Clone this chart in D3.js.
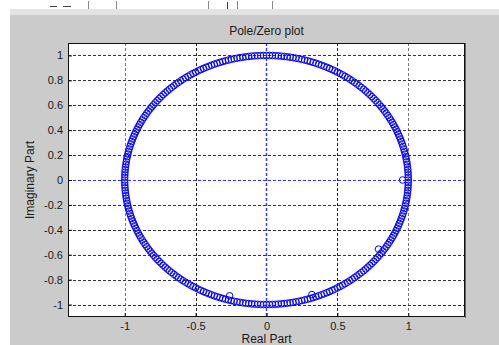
<!DOCTYPE html>
<html>
<head>
<meta charset="utf-8">
<script src="https://cdn.jsdelivr.net/npm/d3@7"></script>
<style>
  html, body { margin: 0; padding: 0; background: #ffffff; }
  svg { display: block; }
  text { font-family: "Liberation Sans", Arial, Helvetica, sans-serif; fill: #1a1a1a; }
</style>
</head>
<body>
<svg id="chart" width="499" height="345"></svg>
<script>
// Zeros lying on the unit circle, given by their angle in degrees
const unitZeroAngles = [
  0,1.2,2.4,3.6,4.8,6,7.2,8.4,9.6,10.8,12,13.2,14.4,15.6,16.8,18,19.2,20.4,21.6,22.8,24,25.2,26.4,27.6,28.8,
  30,31.2,32.4,33.6,34.8,36,37.2,38.4,39.6,40.8,42,43.2,44.4,45.6,46.8,48,49.2,50.4,51.6,52.8,54,55.2,56.4,57.6,58.8,
  60,61.2,62.4,63.6,64.8,66,67.2,68.4,69.6,70.8,72,73.2,74.4,75.6,76.8,78,79.2,80.4,81.6,82.8,84,85.2,86.4,87.6,88.8,
  90,91.2,92.4,93.6,94.8,96,97.2,98.4,99.6,100.8,102,103.2,104.4,105.6,106.8,108,109.2,110.4,111.6,112.8,114,115.2,116.4,117.6,118.8,
  120,121.2,122.4,123.6,124.8,126,127.2,128.4,129.6,130.8,132,133.2,134.4,135.6,136.8,138,139.2,140.4,141.6,142.8,144,145.2,146.4,147.6,148.8,
  150,151.2,152.4,153.6,154.8,156,157.2,158.4,159.6,160.8,162,163.2,164.4,165.6,166.8,168,169.2,170.4,171.6,172.8,174,175.2,176.4,177.6,178.8,
  180,181.2,182.4,183.6,184.8,186,187.2,188.4,189.6,190.8,192,193.2,194.4,195.6,196.8,198,199.2,200.4,201.6,202.8,204,205.2,206.4,207.6,208.8,
  210,211.2,212.4,213.6,214.8,216,217.2,218.4,219.6,220.8,222,223.2,224.4,225.6,226.8,228,229.2,230.4,231.6,232.8,234,235.2,236.4,237.6,238.8,
  240,241.2,242.4,243.6,244.8,246,247.2,248.4,249.6,250.8,252,253.2,254.4,255.6,256.8,258,259.2,260.4,261.6,262.8,264,265.2,266.4,267.6,268.8,
  270,271.2,272.4,273.6,274.8,276,277.2,278.4,279.6,280.8,282,283.2,284.4,285.6,286.8,288,289.2,290.4,291.6,292.8,294,295.2,296.4,297.6,298.8,
  300,301.2,302.4,303.6,304.8,306,307.2,308.4,309.6,310.8,312,313.2,314.4,315.6,316.8,318,319.2,320.4,321.6,322.8,324,325.2,326.4,327.6,328.8,
  330,331.2,332.4,333.6,334.8,336,337.2,338.4,339.6,340.8,342,343.2,344.4,345.6,346.8,348,349.2,350.4,351.6,352.8,354,355.2,356.4,357.6,358.8
];
// Zeros lying just inside the unit circle
const innerZeroRe = [0.96, 0.79, 0.32, -0.26];
const innerZeroIm = [0.0, -0.555, -0.92, -0.93];

const xTicks = [-1, -0.5, 0, 0.5, 1];
const yTicks = [-1, -0.8, -0.6, -0.4, -0.2, 0, 0.2, 0.4, 0.6, 0.8, 1];
const xDomain = [-1.4, 1.4];
const yDomain = [-1.1, 1.1];

const svg = d3.select("#chart");
const W = 499, H = 345;
const plot = { left: 68, right: 465, top: 43, bottom: 317 };

// figure window background and toolbar strip
svg.append("rect").attr("x", 0).attr("y", 0).attr("width", W).attr("height", H).attr("fill", "#ffffff");
svg.append("rect").attr("x", 10).attr("y", 9).attr("width", W - 10).attr("height", 6).attr("fill", "#e2e2e2");
svg.append("rect").attr("x", 10).attr("y", 15).attr("width", W - 10).attr("height", H - 15).attr("fill", "#cbcbcb");
const toolbar = svg.append("g").attr("stroke", "#8a8a8a").attr("stroke-width", 1);
[[50, 57], [63, 71]].forEach(([a, b]) => toolbar.append("line").attr("x1", a).attr("x2", b).attr("y1", 6.5).attr("y2", 6.5).attr("stroke", "#444"));
[88.5, 116.5, 208.5, 237.5, 272.5].forEach(xp => toolbar.append("line").attr("x1", xp).attr("x2", xp).attr("y1", 1).attr("y2", 9));
svg.append("line").attr("x1", 227.5).attr("x2", 227.5).attr("y1", 2).attr("y2", 9).attr("stroke", "#2222dd");

const x = d3.scaleLinear().domain(xDomain).range([plot.left, plot.right]);
const y = d3.scaleLinear().domain(yDomain).range([plot.bottom, plot.top]);

// axes area
svg.append("rect")
  .attr("x", plot.left).attr("y", plot.top)
  .attr("width", plot.right - plot.left).attr("height", plot.bottom - plot.top)
  .attr("fill", "#ffffff");

svg.append("clipPath").attr("id", "plotclip").append("rect")
  .attr("x", plot.left).attr("y", plot.top)
  .attr("width", plot.right - plot.left).attr("height", plot.bottom - plot.top);

// grid lines
const grid = svg.append("g").attr("fill", "none");
grid.selectAll("line.gx").data(xTicks.filter(d => d !== 0)).join("line")
  .attr("class", "gx")
  .attr("x1", d => Math.round(x(d)) + 0.5).attr("x2", d => Math.round(x(d)) + 0.5)
  .attr("y1", plot.top).attr("y2", plot.bottom)
  .attr("stroke", d => Math.abs(d) === 1 ? "#777777" : "#222222")
  .attr("stroke-dasharray", "3,2");
grid.selectAll("line.gy").data(yTicks.filter(d => d !== 0)).join("line")
  .attr("class", "gy")
  .attr("y1", d => Math.round(y(d)) + 0.5).attr("y2", d => Math.round(y(d)) + 0.5)
  .attr("x1", plot.left).attr("x2", plot.right)
  .attr("stroke", "#333333")
  .attr("stroke-dasharray", "3,2");

// zero markers
const marks = svg.append("g").attr("clip-path", "url(#plotclip)")
  .attr("fill", "none").attr("stroke", "#0000ff").attr("stroke-width", 1);
marks.selectAll("circle.uz").data(unitZeroAngles).join("circle")
  .attr("class", "uz")
  .attr("cx", d => x(Math.cos(d * Math.PI / 180)))
  .attr("cy", d => y(Math.sin(d * Math.PI / 180)))
  .attr("r", 3.3);
marks.selectAll("circle.iz").data(innerZeroRe.map((re, i) => ({ re, im: innerZeroIm[i] }))).join("circle")
  .attr("class", "iz")
  .attr("cx", d => x(d.re)).attr("cy", d => y(d.im))
  .attr("r", 3.3);

// real and imaginary axis lines
const x0 = x(0);
const y0 = Math.round(y(0)) + 0.5;
const axisLines = svg.append("g").attr("fill", "none")
  .attr("stroke", "#3030ff").attr("stroke-dasharray", "3,2");
axisLines.append("path").attr("stroke-width", 1.4).attr("d", `M${x0},${plot.top}V${plot.bottom}`);
axisLines.append("path").attr("stroke-width", 1).attr("d", `M${plot.left},${y0}H${plot.right}`);

// axes box
svg.append("rect")
  .attr("x", plot.left + 0.5).attr("y", plot.top + 0.5)
  .attr("width", plot.right - plot.left - 1).attr("height", plot.bottom - plot.top - 1)
  .attr("fill", "none").attr("stroke", "#111111");
svg.append("line")
  .attr("x1", plot.right + 0.5).attr("x2", plot.right + 0.5)
  .attr("y1", plot.top).attr("y2", plot.bottom + 1)
  .attr("stroke", "#666666");

// axes with tick labels
const fmt = d => d === 0 ? "0" : String(d);
const xAxis = svg.append("g").attr("transform", `translate(0,${plot.bottom})`)
  .call(d3.axisBottom(x).tickValues(xTicks).tickFormat(fmt).tickSize(-4).tickPadding(5));
const yAxis = svg.append("g").attr("transform", `translate(${plot.left},0)`)
  .call(d3.axisLeft(y).tickValues(yTicks).tickFormat(fmt).tickSize(-4).tickPadding(5));
[xAxis, yAxis].forEach(g => {
  g.select(".domain").remove();
  g.selectAll(".tick line").attr("stroke", "#111111");
  g.selectAll(".tick text").attr("font-size", 11).attr("fill", "#1a1a1a")
    .style("font-family", "'Liberation Sans', Arial, sans-serif");
});

// title and axis labels
svg.append("text").attr("x", (plot.left + plot.right) / 2).attr("y", 35)
  .attr("text-anchor", "middle").attr("font-size", 12).text("Pole/Zero plot");
svg.append("text").attr("x", (plot.left + plot.right) / 2).attr("y", 343)
  .attr("text-anchor", "middle").attr("font-size", 12).text("Real Part");
svg.append("text").attr("transform", `translate(34,${(plot.top + plot.bottom) / 2}) rotate(-90)`)
  .attr("text-anchor", "middle").attr("font-size", 12).text("Imaginary Part");
</script>
</body>
</html>
